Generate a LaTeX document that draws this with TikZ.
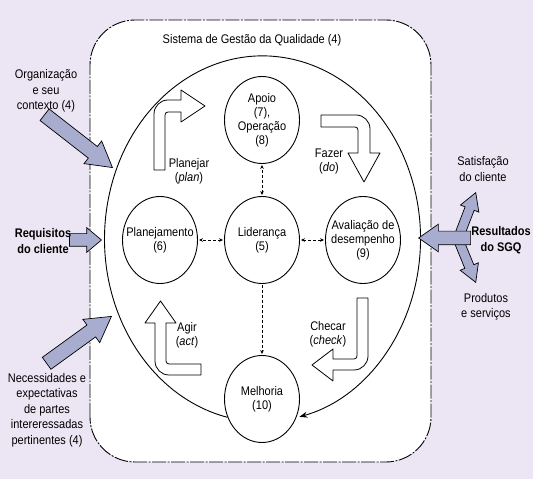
\documentclass[tikz,border=0pt]{standalone}
\usepackage{fontspec}
\setmainfont{Liberation Sans}[FakeStretch=0.88]
\usetikzlibrary{shapes.geometric,shapes.arrows,arrows.meta}

\definecolor{lavender}{RGB}{236,230,244}
\definecolor{arrowblue}{RGB}{168,173,208}

\begin{document}
\begin{tikzpicture}[x=1pt,y=1pt,>={Stealth[length=4pt,width=3.5pt]},font=\fontsize{12.5}{14}\selectfont]
    \tikzstyle{stage}=[ellipse,draw,line width=0.9pt,fill=white,minimum width=75pt,minimum height=87pt,inner sep=-15pt,align=center]
    \tikzstyle{link}=[densely dashed,line width=0.5pt,shorten >=1pt,shorten <=1pt]
    \tikzstyle{inarrow}=[single arrow,draw,fill=arrowblue,line width=0.7pt,anchor=tip,inner xsep=0pt,inner ysep=7pt,minimum width=28pt,single arrow head extend=7pt,single arrow tip angle=60]
    \tikzstyle{outarrow}=[inarrow,inner ysep=4.5pt,minimum width=19pt,single arrow head extend=5pt]
    \tikzstyle{bent}=[draw,fill=white,line width=0.8pt,line join=round]
    \tikzstyle{side}=[align=center,font=\fontsize{12.5}{15.5}\selectfont]
    \tikzstyle{sidebold}=[align=center,font=\fontsize{12.5}{15.5}\selectfont\bfseries]

    \useasboundingbox[fill=lavender] (0,0) rectangle (533,479);

    % the system frame
    \draw[fill=white,rounded corners=45pt,line width=0.9pt,dash pattern=on 14pt off 1.5pt on 2pt off 1.5pt] (90,17) rectangle (431,459);
    \node (title) at (252,439) {Sistema de Gestão da Qualidade (4)};

    % stages
    \node[stage] (oper) at (262,359) {Apoio\\(7),\\Operação\\(8)};
    \foreach \name/\x/\txt in {plan/160/{Planejamento\\(6)}, lead/262/{Liderança\\(5)}, eval/363/{Avaliação de\\desempenho\\(9)}}
        \node[stage] (\name) at (\x,239) {\txt};
    \node[stage] (impr) at (262,80) {Melhoria\\(10)};

    % PDCA cycle
    \draw[line width=0.9pt,-{Stealth[length=8pt,width=6pt]}] (impr.208)
        arc[start angle=257.2,end angle=-76.5,x radius=158,y radius=183];

    \foreach \dest in {plan,eval,oper}
        \path (lead) edge[link,<->] (\dest);
    \path (lead) edge[link,->] (impr);

    % Planejar
    \draw[bent] (154,309) -- (154,365) arc[start angle=180,end angle=90,radius=14] -- (181,379) -- (181,389)
        -- (205,373) -- (181,357) -- (181,367) -- (168,367) arc[start angle=90,end angle=180,radius=3] -- (165,309) -- cycle;
    % Fazer
    \draw[bent] (321,364) -- (356,364) arc[start angle=90,end angle=0,radius=14] -- (370,326) -- (380,326)
        -- (364,297) -- (348,326) -- (358,326) -- (358,349) arc[start angle=0,end angle=90,radius=3] -- (321,352) -- cycle;
    % Checar
    \draw[bent] (357,181) -- (368,181) -- (368,123) arc[start angle=0,end angle=-90,radius=14] -- (333,109) -- (333,98)
        -- (312,114) -- (333,130) -- (333,120) -- (354,120) arc[start angle=-90,end angle=0,radius=3] -- cycle;
    % Agir
    \draw[bent] (201,115) -- (201,104) -- (169,104) arc[start angle=-90,end angle=-180,radius=14] -- (155,156) -- (145,156)
        -- (160.5,178) -- (176,156) -- (166,156) -- (166,118) arc[start angle=180,end angle=270,radius=3] -- cycle;

    \node[align=center] (plan-lbl) at (189,308) {Planejar\\(\textit{plan})};
    \node[align=center] (do-lbl) at (329,318) {Fazer\\(\textit{do})};
    \node[align=center] (check-lbl) at (328,145) {Checar\\(\textit{check})};
    \node[align=center] (act-lbl) at (187,144) {Agir\\(\textit{act})};

    % inputs
    \node[inarrow,rotate=-37.9,minimum height=86pt] (in-org) at (113,311) {};
    \node[inarrow,inner ysep=6pt,minimum width=24pt,single arrow head extend=6pt,single arrow tip angle=80,minimum height=32pt] (in-req) at (102,239) {};
    \node[inarrow,rotate=35.9,minimum height=80pt] (in-nec) at (112,163) {};

    % outputs
    \node[outarrow,rotate=69,minimum height=50pt] (out-sat) at (476,287) {};
    \node[outarrow,rotate=-67.8,minimum height=47pt] (out-prod) at (476,196) {};
    \node[inarrow,inner ysep=6.5pt,minimum width=27pt,single arrow tip angle=70,rotate=180,minimum height=52pt] (out-res) at (418,241) {};

    \node[side] (org-txt) at (46,388) {Organização\\e seu\\contexto (4)};
    \node[sidebold] (req-txt) at (43,238) {Requisitos\\do cliente};
    \node[side] (nec-txt) at (47,69) {Necessidades e\\expectativas\\de partes\\intereressadas\\pertinentes (4)};
    \node[side] (sat-txt) at (483,310) {Satisfação\\do cliente};
    \node[sidebold] (res-txt) at (501,239) {Resultados\\do SGQ};
    \node[side] (prod-txt) at (486,172) {Produtos\\e serviços};
\end{tikzpicture}
\end{document}
